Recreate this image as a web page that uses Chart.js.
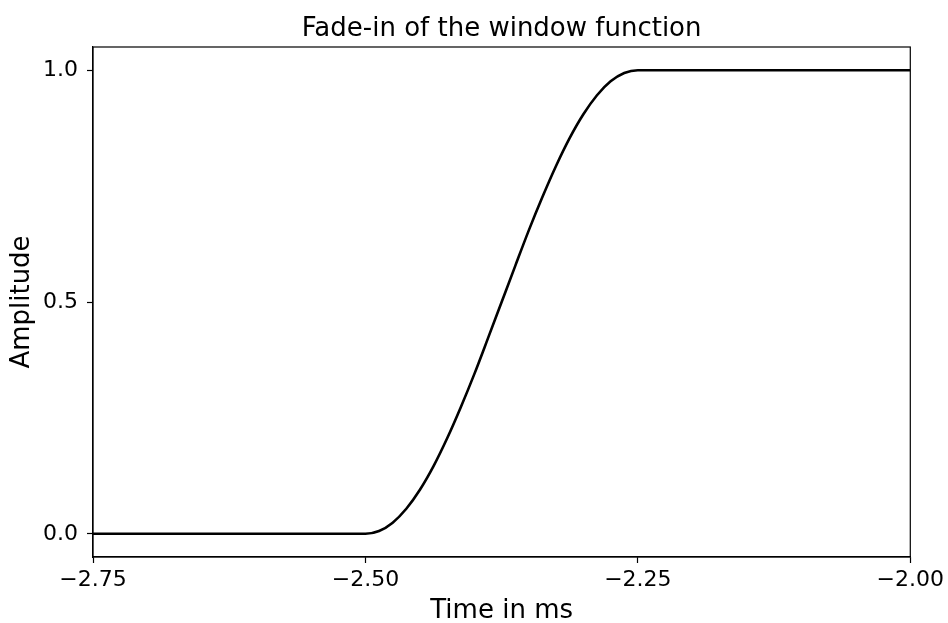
<!DOCTYPE html>
<html lang="en">
<head>
  <meta charset="UTF-8" />
  <title>Fade-in of the window function</title>
  <script src="https://cdn.jsdelivr.net/npm/chart.js"></script>
  <style>
    html, body {
      margin: 0;
      padding: 0;
      background: #ffffff;
    }
    #wrap {
      width: 948px;
      height: 623px;
    }
  </style>
</head>
<body>
  <div id="wrap"><canvas id="fadeChart"></canvas></div>

  <script>
    // time in ms and amplitude
    const timeMs = [
      -2.75, -2.5, -2.4875, -2.475, -2.4625, -2.45, -2.4375, -2.425, -2.4125, -2.4, -2.3875,
      -2.375, -2.3625, -2.35, -2.3375, -2.325, -2.3125, -2.3, -2.2875, -2.275, -2.2625, -2.25, -2.0
    ];
    const amplitude = [
      0, 0, 0.006, 0.024, 0.054, 0.095, 0.146, 0.206, 0.273, 0.345, 0.422,
      0.5, 0.578, 0.655, 0.727, 0.794, 0.854, 0.905, 0.946, 0.976, 0.994, 1.0, 1.0
    ];
    const xTicks = [-2.75, -2.5, -2.25, -2.0];
    const yTicks = [0, 0.5, 1.0];

    const fontFamily = "'DejaVu Sans', sans-serif";

    // matplotlib style box around the axes, title centred over the axes
    const framePlugin = {
      id: "frame",
      afterLayout(chart) {
        if (chart.titleBlock) {
          chart.titleBlock.left = chart.chartArea.left;
          chart.titleBlock.right = chart.chartArea.right;
        }
      },
      afterDraw(chart) {
        const { ctx, chartArea: a } = chart;
        ctx.save();
        ctx.strokeStyle = "#000";
        ctx.lineWidth = 1.2;
        ctx.strokeRect(a.left, a.top, a.right - a.left, a.bottom - a.top);
        ctx.restore();
      }
    };

    const fmt = (v, d) => (v < 0 ? "\u2212" : "") + Math.abs(v).toFixed(d);

    new Chart(document.getElementById("fadeChart"), {
      type: "line",
      data: {
        datasets: [{
          label: "window",
          data: timeMs.map((t, i) => ({ x: t, y: amplitude[i] })),
          borderColor: "#000",
          borderWidth: 2.6,
          pointRadius: 0,
          cubicInterpolationMode: "monotone",
          fill: false
        }]
      },
      options: {
        responsive: true,
        maintainAspectRatio: false,
        animation: false,
        layout: { padding: { left: 0, right: 35, top: 0, bottom: 0 } },
        plugins: {
          legend: { display: false },
          tooltip: { enabled: false },
          title: {
            display: true,
            text: "Fade-in of the window function",
            color: "#000",
            font: { family: fontFamily, size: 26, weight: "normal", lineHeight: 1.2 },
            padding: { top: 14, bottom: 1.8 }
          }
        },
        scales: {
          x: {
            type: "linear",
            min: -2.75,
            max: -2.0,
            afterBuildTicks: s => { s.ticks = xTicks.map(v => ({ value: v })); },
            afterFit: s => { s.height = 66; },
            grid: { display: true, drawOnChartArea: false, drawTicks: true, tickLength: 6, color: "#000", tickWidth: 1.2 },
            border: { display: true, color: "#000", width: 1.2 },
            ticks: {
              color: "#000",
              padding: 4,
              maxRotation: 0,
              font: { family: fontFamily, size: 22 },
              callback: v => fmt(v, 2)
            },
            title: {
              display: true,
              text: "Time in ms",
              color: "#000",
              font: { family: fontFamily, size: 26, lineHeight: 0.9 },
              padding: { top: 0, bottom: 0 }
            }
          },
          y: {
            type: "linear",
            min: -0.05,
            max: 1.05,
            afterBuildTicks: s => { s.ticks = yTicks.map(v => ({ value: v })); },
            afterFit: s => { s.width = 93; },
            grid: { display: true, drawOnChartArea: false, drawTicks: true, tickLength: 6, color: "#000", tickWidth: 1.2 },
            border: { display: true, color: "#000", width: 1.2 },
            ticks: {
              color: "#000",
              padding: 9,
              font: { family: fontFamily, size: 22 },
              callback: v => fmt(v, 1)
            },
            title: {
              display: true,
              text: "Amplitude",
              color: "#000",
              font: { family: fontFamily, size: 26, lineHeight: 1.2 },
              padding: { top: 7, bottom: 0 }
            }
          }
        }
      },
      plugins: [framePlugin]
    });
  </script>
</body>
</html>
